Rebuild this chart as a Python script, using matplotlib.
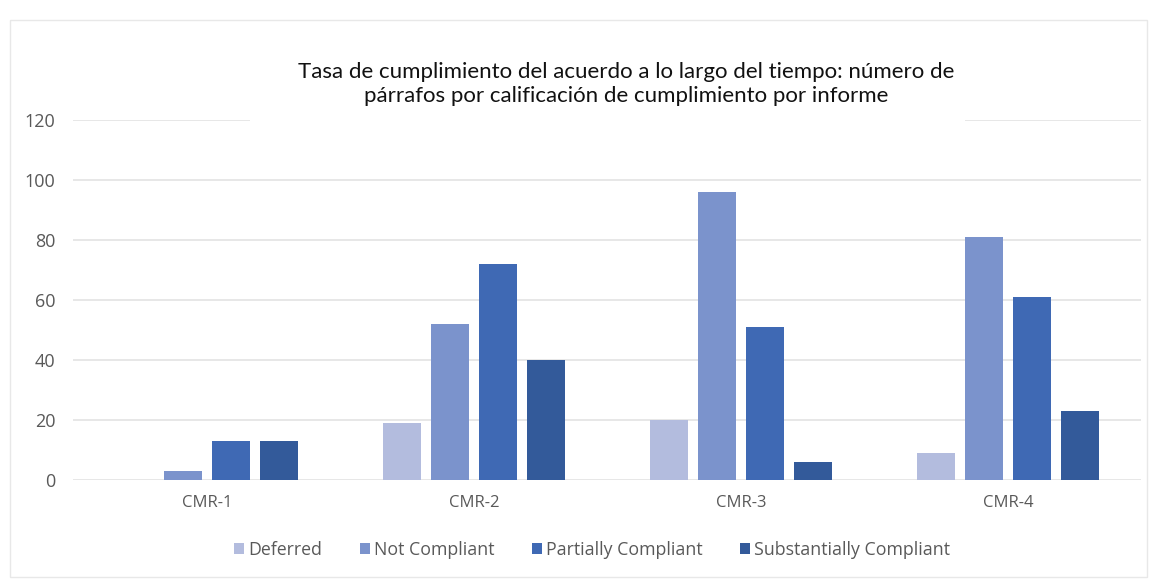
import numpy as np
import matplotlib
matplotlib.use("Agg")
import matplotlib.pyplot as plt
from matplotlib.patches import Rectangle

# data
reports = ["CMR-1", "CMR-2", "CMR-3", "CMR-4"]
deferred = [0, 19, 20, 9]
not_compliant = [3, 52, 96, 81]
partially = [13, 72, 51, 61]
substantially = [13, 40, 6, 23]
series_names = ["Deferred", "Not Compliant", "Partially Compliant", "Substantially Compliant"]
colors = ["#B3BCDE", "#7B93CC", "#3F69B4", "#335A9A"]
yticks = [0, 20, 40, 60, 80, 100, 120]

title = ("Tasa de cumplimiento del acuerdo a lo largo del tiempo: número de\n"
         "párrafos por calificación de cumplimiento por informe")

plt.rcParams['font.family'] = ['Open Sans', 'DejaVu Sans']

fig = plt.figure(figsize=(11.57, 5.82), dpi=100)
ax = fig.add_axes([0.0635, 0.1753, 0.9231, 0.6185])

x = np.arange(len(reports))
width = 0.142
step = 0.18
all_series = [deferred, not_compliant, partially, substantially]
for i, (vals, name, c) in enumerate(zip(all_series, series_names, colors)):
    ax.bar(x + (i - 1.5) * step, vals, width, color=c, label=name, zorder=3)

ax.set_xlim(-0.5, len(reports) - 0.5)
ax.set_ylim(0, 120)
ax.set_yticks(yticks)
ax.set_xticks(x)
ax.set_xticklabels(reports)
ax.grid(axis='y', color='#E3E3E3', linewidth=1.2, zorder=0)
for s in ax.spines.values():
    s.set_visible(False)
ax.tick_params(length=0, colors='#595959')
ax.tick_params(axis='y', pad=13, labelsize=13)
ax.tick_params(axis='x', pad=11, labelsize=12)

# white box behind the title hides part of the top gridline
fig.patches.append(Rectangle((250 / 1157, 1 - 126 / 582), 715 / 1157, 90 / 582,
                             transform=fig.transFigure, facecolor='white',
                             edgecolor='none', zorder=2))
fig.text(0.541, 1 - 84 / 582, title, ha='center', va='center', fontsize=16,
         family=['Lato', 'DejaVu Sans'], linespacing=1.2, color='#111111', zorder=3)

# faint chart border
fig.patches.append(Rectangle((10 / 1157, 1 - 577 / 582), 1137 / 1157, 557 / 582,
                             transform=fig.transFigure, facecolor='none',
                             edgecolor='#E8E8E8', linewidth=1, zorder=1))

leg = fig.legend(loc='center', bbox_to_anchor=(0.512, 1 - 550 / 582), ncol=4,
                 frameon=False, fontsize=12.8, handlelength=0.55, handleheight=0.55,
                 handletextpad=0.25, columnspacing=2.1)
for t in leg.get_texts():
    t.set_color('#595959')

fig.savefig("out.png", dpi=100)
